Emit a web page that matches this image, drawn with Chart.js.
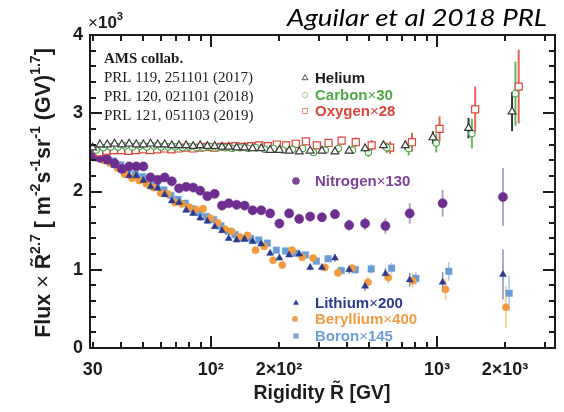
<!DOCTYPE html>
<html>
<head>
<meta charset="utf-8">
<title>AMS nuclei fluxes</title>
<script src="https://cdn.jsdelivr.net/npm/chart.js@4.4.1/dist/chart.umd.min.js"></script>
<style>
  html, body { margin: 0; padding: 0; background: #fff; }
  #wrap { position: relative; width: 564px; height: 412px; }
  canvas { display: block; }
</style>
</head>
<body>
<div id="wrap"><canvas id="c" width="564" height="412"></canvas></div>
<script>
// ---- data (flux x R^2.7 in units of 10^3 m^-2 s^-1 sr^-1 GV^1.7) ----
const rigidityHeCO = [30, 32.3, 34.8, 37.5, 40.4, 43.5, 46.8, 50.3, 54.1, 58.2, 62.5, 67.2, 72.3, 77.7, 83.5, 89.7, 96.5, 104, 112, 120, 130, 141, 153, 167, 183, 201, 222, 246, 275, 310, 354, 409, 481, 580, 725, 960, 1380, 2150];
const rigidityLiBeBN = [30, 32.3, 34.8, 37.5, 40.4, 43.5, 46.8, 50.3, 54.1, 58.2, 62.5, 67.2, 72.3, 77.7, 83.5, 89.7, 96.5, 104, 112, 120, 130, 141, 153, 167, 183, 201, 222, 246, 275, 310, 354, 409, 481, 592, 758, 1060, 1960];

const helium = [2.56, 2.60, 2.60, 2.61, 2.60, 2.61, 2.60, 2.60, 2.61, 2.60, 2.60, 2.59, 2.59, 2.59, 2.58, 2.59, 2.58, 2.58, 2.57, 2.57, 2.56, 2.56, 2.55, 2.55, 2.53, 2.53, 2.52, 2.51, 2.52, 2.52, 2.51, 2.52, 2.55, 2.59, 2.59, 2.69, 2.81, 3.02];
const carbon = [2.53, 2.56, 2.57, 2.57, 2.58, 2.57, 2.58, 2.57, 2.58, 2.57, 2.57, 2.57, 2.56, 2.57, 2.56, 2.56, 2.57, 2.56, 2.56, 2.55, 2.56, 2.55, 2.56, 2.54, 2.55, 2.53, 2.54, 2.55, 2.50, 2.53, 2.55, 2.53, 2.50, 2.56, 2.55, 2.62, 2.74, 3.25];
const oxygen = [2.50, 2.52, 2.53, 2.53, 2.52, 2.53, 2.54, 2.53, 2.54, 2.55, 2.54, 2.55, 2.56, 2.55, 2.56, 2.57, 2.56, 2.57, 2.57, 2.58, 2.57, 2.58, 2.59, 2.58, 2.60, 2.59, 2.61, 2.64, 2.59, 2.62, 2.65, 2.63, 2.59, 2.56, 2.63, 2.80, 3.05, 3.34];
const nitrogen = [2.47, 2.43, 2.41, 2.36, 2.29, 2.32, 2.32, 2.32, 2.18, 2.15, 2.18, 2.13, 2.04, 2.06, 2.05, 2.01, 1.94, 1.97, 1.82, 1.85, 1.83, 1.82, 1.76, 1.76, 1.72, 1.59, 1.72, 1.65, 1.68, 1.67, 1.71, 1.57, 1.59, 1.56, 1.72, 1.85, 1.93];
const lithium = [2.47, 2.42, 2.38, 2.33, 2.27, 2.20, 2.20, 2.14, 2.06, 2.04, 1.96, 1.88, 1.86, 1.76, 1.72, 1.66, 1.62, 1.55, 1.50, 1.40, 1.38, 1.39, 1.36, 1.33, 1.21, 1.15, 1.19, 1.20, 1.03, 1.03, 1.15, 1.00, 0.79, 0.95, 0.87, 0.84, 0.94];
const beryllium = [2.43, 2.40, 2.36, 2.30, 2.22, 2.17, 2.14, 2.10, 2.05, 1.98, 1.97, 1.86, 1.84, 1.80, 1.77, 1.78, 1.66, 1.60, 1.52, 1.49, 1.42, 1.44, 1.25, 1.30, 1.12, 1.06, 1.25, 1.16, 1.15, 1.03, 0.96, 1.02, 0.84, 0.90, 0.86, 0.75, 0.52];
const boron = [2.48, 2.44, 2.39, 2.34, 2.28, 2.22, 2.19, 2.12, 2.08, 2.02, 1.95, 1.90, 1.85, 1.78, 1.73, 1.68, 1.64, 1.56, 1.49, 1.45, 1.40, 1.40, 1.38, 1.34, 1.25, 1.24, 1.21, 1.19, 1.11, 1.14, 0.99, 1.00, 1.01, 1.02, 0.89, 0.98, 0.70];

// total uncertainties (same units)
const errHelium = [0.02, 0.02, 0.02, 0.02, 0.02, 0.02, 0.02, 0.02, 0.02, 0.02, 0.02, 0.02, 0.02, 0.02, 0.02, 0.02, 0.02, 0.02, 0.02, 0.02, 0.02, 0.02, 0.02, 0.02, 0.02, 0.02, 0.02, 0.02, 0.03, 0.03, 0.03, 0.03, 0.04, 0.05, 0.06, 0.08, 0.13, 0.25];
const errCarbon = [0.03, 0.03, 0.03, 0.03, 0.03, 0.03, 0.03, 0.03, 0.03, 0.03, 0.03, 0.03, 0.03, 0.03, 0.03, 0.03, 0.03, 0.03, 0.03, 0.03, 0.03, 0.03, 0.03, 0.03, 0.03, 0.03, 0.03, 0.03, 0.04, 0.04, 0.05, 0.05, 0.06, 0.07, 0.09, 0.12, 0.19, 0.41];
const errOxygen = [0.03, 0.03, 0.03, 0.03, 0.03, 0.03, 0.03, 0.03, 0.03, 0.03, 0.03, 0.03, 0.03, 0.03, 0.03, 0.03, 0.03, 0.03, 0.03, 0.03, 0.03, 0.03, 0.03, 0.03, 0.03, 0.03, 0.03, 0.03, 0.04, 0.05, 0.05, 0.06, 0.07, 0.08, 0.12, 0.16, 0.29, 0.47];
const errNitrogen = [0.03, 0.03, 0.03, 0.03, 0.03, 0.03, 0.03, 0.03, 0.03, 0.03, 0.03, 0.03, 0.03, 0.03, 0.03, 0.03, 0.03, 0.03, 0.03, 0.03, 0.03, 0.03, 0.03, 0.03, 0.03, 0.04, 0.04, 0.05, 0.05, 0.06, 0.06, 0.07, 0.08, 0.10, 0.13, 0.17, 0.37];
const errLithium = [0.03, 0.03, 0.03, 0.03, 0.03, 0.03, 0.03, 0.03, 0.03, 0.03, 0.03, 0.03, 0.03, 0.03, 0.03, 0.03, 0.03, 0.03, 0.03, 0.03, 0.03, 0.03, 0.03, 0.03, 0.03, 0.03, 0.03, 0.03, 0.04, 0.04, 0.05, 0.05, 0.06, 0.07, 0.09, 0.13, 0.32];
const errBeryllium = [0.03, 0.03, 0.03, 0.03, 0.03, 0.03, 0.03, 0.03, 0.03, 0.03, 0.03, 0.03, 0.03, 0.03, 0.03, 0.03, 0.03, 0.03, 0.03, 0.03, 0.03, 0.03, 0.03, 0.03, 0.03, 0.03, 0.03, 0.03, 0.04, 0.05, 0.05, 0.06, 0.07, 0.08, 0.10, 0.14, 0.27];
const errBoron = [0.03, 0.03, 0.03, 0.03, 0.03, 0.03, 0.03, 0.03, 0.03, 0.03, 0.03, 0.03, 0.03, 0.03, 0.03, 0.03, 0.03, 0.03, 0.03, 0.03, 0.03, 0.03, 0.03, 0.03, 0.03, 0.03, 0.03, 0.03, 0.04, 0.04, 0.05, 0.05, 0.06, 0.07, 0.08, 0.12, 0.22];

// axis ticks
const xTickValues = [30, 100, 200, 1000, 2000];
const xTickLabels = ['30', '10²', '2×10²', '10³', '2×10³'];
const xMinorTicks = [30, 40, 50, 60, 70, 80, 90, 200, 300, 400, 500, 600, 700, 800, 900, 2000, 3000];
const xMajorTicks = [100, 1000];
const yTickValues = [0, 1, 2, 3, 4];

// ---- styling ----
const SANS = '"Liberation Sans", Arial, Helvetica, sans-serif';
const SERIF = '"Liberation Serif", "Times New Roman", serif';
const INK = '#1c1c1c';
const COL = {
  he: '#3a3a3a', c: '#4fa84a', o: '#e0443a', n: '#6e2e90',
  li: '#2c3a8e', be: '#f39a3c', b: '#6a9dd6'
};

// small horizontal display offsets so overlapping species stay visible
const shift = (rs, f) => rs.map(r => r * f);
const pts = (rs, vs) => vs.map((v, i) => ({ x: rs[i], y: v }));

function ds(label, rs, vs, err, style, radius, color, filled, errColor, errWidth) {
  return {
    label, data: pts(rs, vs), err, errColor, errWidth,
    pointStyle: style, pointRadius: radius, pointHoverRadius: radius,
    pointBorderWidth: filled ? 0.5 : 1.2,
    pointBorderColor: color,
    pointBackgroundColor: filled ? color : '#ffffff',
    showLine: false
  };
}

const datasets = [
  ds('Helium', rigidityHeCO, helium, errHelium, 'triangle', 4.5, COL.he, false, 'rgba(30,30,30,0.9)', 2),
  ds('Carbon×30', shift(rigidityHeCO, 1.035), carbon, errCarbon, 'circle', 3.2, COL.c, false, 'rgba(80,170,70,0.85)', 2),
  ds('Oxygen×28', shift(rigidityHeCO, 1.07), oxygen, errOxygen, 'rect', 5, COL.o, false, 'rgba(225,70,60,0.85)', 2),
  ds('Nitrogen×130', rigidityLiBeBN, nitrogen, errNitrogen, 'circle', 4.6, COL.n, true, 'rgba(140,115,165,0.65)', 2),
  ds('Lithium×200', rigidityLiBeBN, lithium, errLithium, 'triangle', 4, COL.li, true, 'rgba(60,70,150,0.6)', 1.5),
  ds('Beryllium×400', shift(rigidityLiBeBN, 1.03), beryllium, errBeryllium, 'circle', 3.6, COL.be, true, 'rgba(243,160,70,0.6)', 1.5),
  ds('Boron×145', shift(rigidityLiBeBN, 1.065), boron, errBoron, 'rect', 4.6, COL.b, true, 'rgba(110,155,215,0.6)', 1.5)
];

// ---- drawing helpers ----
function marker(ctx, style, x, y, r, fill, stroke) {
  ctx.beginPath();
  if (style === 'circle') ctx.arc(x, y, r, 0, Math.PI * 2);
  else if (style === 'rect') ctx.rect(x - r * 0.7071, y - r * 0.7071, r * 1.4142, r * 1.4142);
  else { ctx.moveTo(x, y - r); ctx.lineTo(x + r * 0.866, y + r * 0.5); ctx.lineTo(x - r * 0.866, y + r * 0.5); ctx.closePath(); }
  if (fill) { ctx.fillStyle = fill; ctx.fill(); }
  if (stroke) { ctx.strokeStyle = stroke; ctx.lineWidth = 1; ctx.stroke(); }
}

function runFont(r, size, family) {
  const s = r.sup ? size * 0.66 : size;
  return `${r.weight || 'bold'} ${s}px ${family}`;
}
function runsWidth(ctx, runs, size, family) {
  let w = 0;
  for (const r of runs) { ctx.font = runFont(r, size, family); w += ctx.measureText(r.t).width; }
  return w;
}
function drawRuns(ctx, runs, x, y, size, family, color) {
  for (const r of runs) {
    ctx.font = runFont(r, size, family);
    ctx.fillStyle = r.color || color;
    ctx.fillText(r.t, x, r.sup ? y - size * 0.45 : y);
    x += ctx.measureText(r.t).width;
  }
}

// error bars below the markers
const errorBars = {
  id: 'errorBars',
  beforeDatasetsDraw(chart) {
    const { ctx, chartArea: a, scales: { y } } = chart;
    ctx.save();
    ctx.beginPath();
    ctx.rect(a.left, a.top, a.right - a.left, a.bottom - a.top);
    ctx.clip();
    chart.data.datasets.forEach((d, i) => {
      const meta = chart.getDatasetMeta(i);
      ctx.strokeStyle = d.errColor;
      ctx.lineWidth = d.errWidth;
      meta.data.forEach((el, j) => {
        const v = d.data[j].y, e = d.err[j];
        ctx.beginPath();
        ctx.moveTo(el.x, y.getPixelForValue(v + e));
        ctx.lineTo(el.x, y.getPixelForValue(v - e));
        ctx.stroke();
      });
    });
    ctx.restore();
  }
};

// frame, inward ticks, titles and legend blocks
const decorations = {
  id: 'decorations',
  afterDraw(chart) {
    const { ctx, chartArea: a, scales: { x, y } } = chart;
    ctx.save();
    ctx.strokeStyle = INK;
    ctx.lineWidth = 2;
    ctx.strokeRect(a.left, a.top, a.right - a.left, a.bottom - a.top);

    // y ticks every 0.2, longer at integers, both sides
    for (let i = 0; i <= 20; i++) {
      const v = i / 5, py = Math.round(y.getPixelForValue(v));
      const len = i % 5 === 0 ? 12 : 6;
      ctx.beginPath();
      ctx.moveTo(a.left, py); ctx.lineTo(a.left + len, py);
      ctx.moveTo(a.right, py); ctx.lineTo(a.right - len, py);
      ctx.stroke();
    }
    // x ticks, bottom and top
    const xt = xMinorTicks.map(v => [v, 6]).concat(xMajorTicks.map(v => [v, 12]));
    for (const [v, len] of xt) {
      const px = Math.round(x.getPixelForValue(v));
      if (px <= a.left + 1 || px >= a.right - 1) continue;
      ctx.beginPath();
      ctx.moveTo(px, a.bottom); ctx.lineTo(px, a.bottom - len);
      ctx.moveTo(px, a.top); ctx.lineTo(px, a.top + len);
      ctx.stroke();
    }

    ctx.textBaseline = 'alphabetic';
    ctx.textAlign = 'left';

    // scale factor label
    drawRuns(ctx, [{ t: '×', weight: 'normal' }, { t: '10' }, { t: '3', sup: true }], 88, 28, 17, SANS, INK);

    // header, fitted to its column width
    const header = 'Aguilar et al 2018 PRL';
    ctx.font = `italic 400 24px Lato, "Open Sans", sans-serif`;
    const hw = ctx.measureText(header).width;
    ctx.save();
    ctx.translate(287, 26);
    ctx.scale(260 / hw, 1);
    ctx.fillStyle = '#000';
    ctx.fillText(header, 0, 0);
    ctx.restore();

    // x title
    const xRuns = [{ t: 'Rigidity R\u0303 [GV]' }];
    let xs = 18;
    xs = xs * 137 / runsWidth(ctx, xRuns, xs, SANS);
    drawRuns(ctx, xRuns, 322 - runsWidth(ctx, xRuns, xs, SANS) / 2, 399, xs, SANS, INK);

    // y title
    const yRuns = [
      { t: 'Flux ' }, { t: '×', weight: 'normal' }, { t: ' R\u0303' }, { t: '2.7', sup: true },
      { t: ' [ m' }, { t: '-2', sup: true }, { t: 's' }, { t: '-1', sup: true },
      { t: 'sr' }, { t: '-1', sup: true }, { t: ' (GV)' }, { t: '1.7', sup: true }, { t: ']' }
    ];
    let ys = 17;
    ys = ys * 290 / runsWidth(ctx, yRuns, ys, SANS);
    ctx.save();
    ctx.translate(50, 193);
    ctx.rotate(-Math.PI / 2);
    drawRuns(ctx, yRuns, -runsWidth(ctx, yRuns, ys, SANS) / 2, 0, ys, SANS, INK);
    ctx.restore();

    // publication block
    ctx.fillStyle = INK;
    ctx.font = `bold 15px ${SERIF}`;
    ctx.fillText('AMS collab.', 104, 63);
    ctx.font = `15px ${SERIF}`;
    ctx.fillText('PRL 119, 251101 (2017)', 104, 82);
    ctx.fillText('PRL 120, 021101 (2018)', 104, 101);
    ctx.fillText('PRL 121, 051103 (2019)', 104, 120);

    // species keys
    const key = (style, mr, mfill, mstroke, mx, name, factor, color, ty) => {
      marker(ctx, style, mx, ty - 5, mr, mfill, mstroke);
      const runs = [{ t: name }];
      if (factor) runs.push({ t: '×', weight: 'normal' }, { t: factor });
      drawRuns(ctx, runs, 315, ty, 15, SANS, color);
    };
    key('triangle', 3.4, '#fff', '#555', 305, 'Helium', '', INK, 83);
    key('circle', 2.6, '#fff', '#9bd08f', 305, 'Carbon', '30', COL.c, 100);
    key('rect', 3.6, '#fff', '#e58a78', 305, 'Oxygen', '28', COL.o, 116);
    key('circle', 3.8, '#7a4a9a', null, 296, 'Nitrogen', '130', '#7b4498', 186);
    key('triangle', 3.4, COL.li, null, 296, 'Lithium', '200', COL.li, 308);
    key('circle', 3, '#f2a25a', null, 295, 'Beryllium', '400', '#f29b45', 324);
    key('rect', 3.6, '#7aa6d8', null, 296, 'Boron', '145', '#6f9fd8', 341);

    ctx.restore();
  }
};

new Chart(document.getElementById('c'), {
  type: 'scatter',
  data: { datasets },
  options: {
    responsive: false,
    animation: false,
    devicePixelRatio: 1,
    layout: { padding: { top: 35, right: 9, left: 0, bottom: 0 } },
    plugins: { legend: { display: false }, tooltip: { enabled: false } },
    scales: {
      x: {
        type: 'logarithmic', min: 29.2, max: 3330,
        afterBuildTicks: s => { s.ticks = xTickValues.map(v => ({ value: v })); },
        afterFit: s => { s.height = 64; },
        grid: { display: false, drawTicks: false },
        border: { display: false },
        ticks: {
          autoSkip: false, maxRotation: 0, minRotation: 0, padding: 11,
          color: INK, font: { family: SANS, size: 18, weight: 'bold' },
          callback: v => { const k = xTickValues.indexOf(v); return k >= 0 ? xTickLabels[k] : ''; }
        }
      },
      y: {
        min: 0, max: 4,
        afterBuildTicks: s => { s.ticks = yTickValues.map(v => ({ value: v })); },
        afterFit: s => { s.width = 90; },
        grid: { display: false, drawTicks: false },
        border: { display: false },
        ticks: { padding: 7, color: INK, font: { family: SANS, size: 18, weight: 'bold' } }
      }
    }
  },
  plugins: [errorBars, decorations]
});
</script>
</body>
</html>
